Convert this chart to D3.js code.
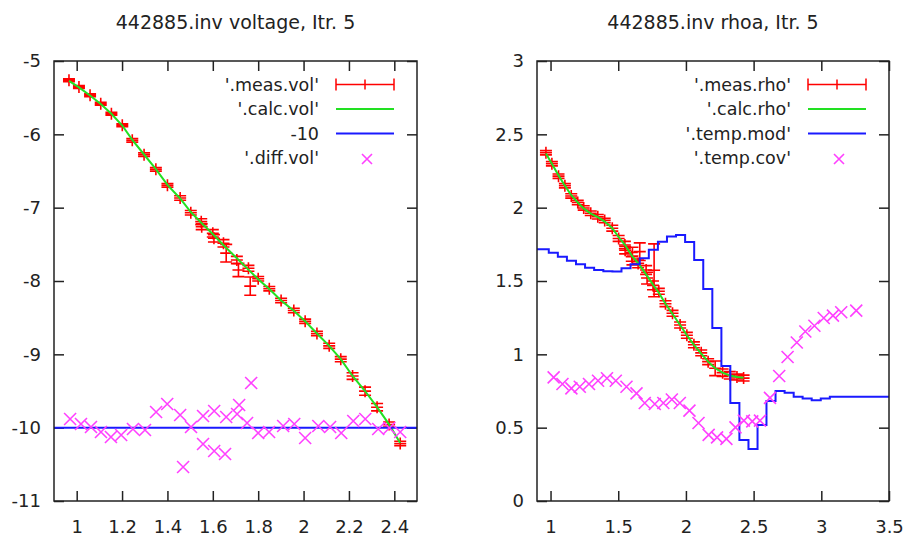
<!DOCTYPE html>
<html>
<head>
<meta charset="utf-8">
<script src="https://cdn.jsdelivr.net/npm/d3@7"></script>
<style>
  body { margin: 0; background: #fff; }
  text { font-family: "DejaVu Sans", sans-serif; fill: #222; }
</style>
</head>
<body>
<script>
// shared electrode spacings (log10 AB/2)
var measX = [0.966, 1.010, 1.059, 1.106, 1.153, 1.201, 1.245, 1.297, 1.349, 1.400, 1.456, 1.503, 1.549, 1.551,
  1.600, 1.605, 1.647, 1.659, 1.706, 1.713, 1.757, 1.765, 1.800, 1.849, 1.901, 1.957, 2.007, 2.059, 2.113,
  2.164, 2.216, 2.271, 2.324, 2.377, 2.426];

var measVol = [-5.263, -5.355, -5.468, -5.582, -5.719, -5.877, -6.081, -6.278, -6.477, -6.695, -6.868, -7.069,
  -7.191, -7.260, -7.350, -7.418, -7.486, -7.620, -7.714, -7.850, -7.827, -8.070, -7.969, -8.105, -8.266,
  -8.402, -8.550, -8.715, -8.884, -9.066, -9.296, -9.502, -9.721, -9.958, -10.215];
var errVol = [0.02, 0.02, 0.02, 0.02, 0.02, 0.02, 0.025, 0.025, 0.025, 0.025, 0.03, 0.03, 0.04, 0.04, 0.05,
  0.05, 0.05, 0.12, 0.05, 0.09, 0.04, 0.125, 0.03, 0.03, 0.03, 0.03, 0.03, 0.03, 0.035, 0.035, 0.045, 0.055,
  0.05, 0.035, 0.03];

var measRho = [2.375, 2.30, 2.215, 2.15, 2.08, 2.035, 1.998, 1.962, 1.938, 1.912, 1.86, 1.79, 1.745, 1.71,
  1.665, 1.67, 1.62, 1.70, 1.575, 1.52, 1.47, 1.573, 1.43, 1.345, 1.28, 1.20, 1.13, 1.065, 1.01, 0.95, 0.905,
  0.875, 0.857, 0.845, 0.838];
var errRho = [0.015, 0.015, 0.015, 0.015, 0.015, 0.015, 0.015, 0.015, 0.015, 0.015, 0.02, 0.02, 0.025, 0.025,
  0.03, 0.06, 0.03, 0.06, 0.03, 0.04, 0.03, 0.18, 0.02, 0.02, 0.02, 0.02, 0.02, 0.02, 0.02, 0.02, 0.05, 0.025,
  0.025, 0.02, 0.02];

var calcX = [0.966, 1.010, 1.059, 1.106, 1.153, 1.201, 1.245, 1.297, 1.349, 1.400, 1.456, 1.503, 1.550, 1.603,
  1.653, 1.706, 1.757, 1.800, 1.849, 1.901, 1.957, 2.007, 2.059, 2.113, 2.164, 2.216, 2.271, 2.324, 2.377, 2.426];
var calcVol = [-5.27, -5.36, -5.47, -5.585, -5.72, -5.88, -6.075, -6.275, -6.475, -6.69, -6.875, -7.06, -7.21,
  -7.37, -7.53, -7.69, -7.845, -7.975, -8.11, -8.265, -8.405, -8.55, -8.715, -8.885, -9.065, -9.295, -9.5,
  -9.72, -9.955, -10.21];
var calcRho = [2.37, 2.30, 2.22, 2.15, 2.085, 2.035, 1.995, 1.96, 1.935, 1.905, 1.86, 1.80, 1.745, 1.67, 1.615,
  1.545, 1.475, 1.42, 1.345, 1.275, 1.20, 1.13, 1.065, 1.005, 0.95, 0.905, 0.875, 0.855, 0.845, 0.84];

var diffX = [0.971, 1.019, 1.063, 1.107, 1.151, 1.196, 1.248, 1.301, 1.350, 1.399, 1.456, 1.469, 1.504, 1.557,
  1.557, 1.606, 1.606, 1.659, 1.654, 1.707, 1.716, 1.751, 1.769, 1.800, 1.848, 1.910, 1.959, 2.007, 2.065,
  2.117, 2.166, 2.219, 2.272, 2.329, 2.378, 2.426];
var diffVol = [-9.882, -9.950, -9.991, -10.059, -10.127, -10.100, -10.018, -10.032, -9.786, -9.677, -9.827,
  -10.537, -9.991, -9.841, -10.223, -9.773, -10.318, -9.855, -10.359, -9.814, -9.691, -9.936, -9.391, -10.073,
  -10.059, -9.977, -9.950, -10.141, -9.977, -9.991, -10.073, -9.909, -9.882, -10.018, -10.005, -10.059];

var modelX = [0.9, 0.987, 1.054, 1.121, 1.188, 1.255, 1.322, 1.390, 1.457, 1.524, 1.591, 1.659, 1.726, 1.793,
  1.860, 1.927, 1.994, 2.061, 2.128, 2.195, 2.262, 2.328, 2.395, 2.462, 2.529, 2.595, 2.662, 2.729, 2.796,
  2.862, 2.929, 2.996, 3.063, 3.5];
var modelRho = [1.716, 1.693, 1.666, 1.638, 1.614, 1.591, 1.575, 1.566, 1.564, 1.587, 1.614, 1.655, 1.713,
  1.768, 1.803, 1.814, 1.766, 1.643, 1.445, 1.180, 0.920, 0.668, 0.416, 0.355, 0.518, 0.682, 0.750, 0.738,
  0.710, 0.699, 0.687, 0.699, 0.710, 0.710];

var covX = [1.023, 1.088, 1.154, 1.216, 1.284, 1.351, 1.417, 1.482, 1.561, 1.635, 1.696, 1.770, 1.833, 1.896,
  1.955, 2.026, 2.093, 2.168, 2.230, 2.299, 2.366, 2.428, 2.490, 2.547, 2.621, 2.689, 2.751, 2.819, 2.882,
  2.949, 3.018, 3.086, 3.147, 3.258];
var covRho = [0.843, 0.798, 0.768, 0.779, 0.798, 0.820, 0.837, 0.820, 0.779, 0.734, 0.668, 0.661, 0.668, 0.692,
  0.668, 0.616, 0.532, 0.451, 0.434, 0.424, 0.502, 0.548, 0.543, 0.548, 0.703, 0.852, 0.982, 1.081, 1.156,
  1.195, 1.248, 1.264, 1.287, 1.298];

var refLevel = -10;

var volXTicks = [1, 1.2, 1.4, 1.6, 1.8, 2, 2.2, 2.4];
var volYTicks = [-5, -6, -7, -8, -9, -10, -11];
var rhoXTicks = [1, 1.5, 2, 2.5, 3, 3.5];
var rhoYTicks = [0, 0.5, 1, 1.5, 2, 2.5, 3];

var RED = '#ff0000', GREEN = '#22e022', BLUE = '#1a1aff', MAGENTA = '#ff40ff';

var svg = d3.select('body').append('svg')
  .attr('width', 914)
  .attr('height', 536);

var zip = function(xs, ys, es) {
  return xs.map(function(x, i) { return {x: x, y: ys[i], e: es ? es[i] : 0}; });
};

var drawPanel = function(cfg) {
  var x = d3.scaleLinear().domain(cfg.xDomain).range([cfg.left, cfg.right]);
  var y = d3.scaleLinear().domain(cfg.yDomain).range([501, 61]);
  var g = svg.append('g');

  var clipId = 'clip' + cfg.id;
  svg.append('clipPath').attr('id', clipId).append('rect')
    .attr('x', cfg.left).attr('y', 61)
    .attr('width', cfg.right - cfg.left).attr('height', 440);

  var fmt = function(d) { return String(d); };

  var axes = [
    {ax: d3.axisBottom(x).tickValues(cfg.xTicks).tickFormat(fmt).tickPadding(19), tr: 'translate(0,501)'},
    {ax: d3.axisTop(x).tickValues(cfg.xTicks).tickFormat(''), tr: 'translate(0,61)'},
    {ax: d3.axisLeft(y).tickValues(cfg.yTicks).tickFormat(fmt).tickPadding(13), tr: 'translate(' + cfg.left + ',0)'},
    {ax: d3.axisRight(y).tickValues(cfg.yTicks).tickFormat(''), tr: 'translate(' + cfg.right + ',0)'}
  ];
  axes.forEach(function(a) {
    var ag = g.append('g').attr('transform', a.tr)
      .call(a.ax.tickSizeInner(-10).tickSizeOuter(0));
    ag.select('.domain').remove();
    ag.selectAll('line').attr('stroke', '#222').attr('stroke-width', 1.5);
    ag.selectAll('text').style('font-size', '18px').attr('fill', '#222');
  });

  g.append('text')
    .attr('x', (cfg.left + cfg.right) / 2).attr('y', 29)
    .attr('text-anchor', 'middle')
    .style('font-size', '19px')
    .text(cfg.title);

  var plot = g.append('g').attr('clip-path', 'url(#' + clipId + ')');
  cfg.draw(plot, x, y);

  g.append('rect')
    .attr('x', cfg.left).attr('y', 61)
    .attr('width', cfg.right - cfg.left).attr('height', 440)
    .attr('fill', 'none').attr('stroke', '#222').attr('stroke-width', 1.5);

  // legend
  var lx = cfg.legendX;
  var rows = [84.5, 109, 133.5, 158];
  cfg.legend.forEach(function(label, i) {
    g.append('text')
      .attr('x', lx - 17).attr('y', rows[i]).attr('dy', '0.35em')
      .attr('text-anchor', 'end')
      .style('font-size', '17.5px')
      .text(label);
  });
  var s = g.append('g').attr('fill', 'none');
  s.append('path')
    .attr('d', 'M' + lx + ',' + rows[0] + 'H' + (lx + 58) +
      'M' + lx + ',' + (rows[0] - 6) + 'V' + (rows[0] + 6) +
      'M' + (lx + 58) + ',' + (rows[0] - 6) + 'V' + (rows[0] + 6) +
      'M' + (lx + 29) + ',' + (rows[0] - 5) + 'V' + (rows[0] + 5))
    .attr('stroke', RED).attr('stroke-width', 1.5);
  s.append('line').attr('x1', lx).attr('x2', lx + 58).attr('y1', rows[1]).attr('y2', rows[1])
    .attr('stroke', GREEN).attr('stroke-width', 2);
  s.append('line').attr('x1', lx).attr('x2', lx + 58).attr('y1', rows[2]).attr('y2', rows[2])
    .attr('stroke', BLUE).attr('stroke-width', 2);
  s.append('path').attr('d', cross(lx + 31, rows[3] + 1, 5))
    .attr('stroke', MAGENTA).attr('stroke-width', 1.6);
};

var cross = function(cx, cy, r) {
  return 'M' + (cx - r) + ',' + (cy - r) + 'L' + (cx + r) + ',' + (cy + r) +
    'M' + (cx - r) + ',' + (cy + r) + 'L' + (cx + r) + ',' + (cy - r);
};

var drawErrorBars = function(plot, x, y, data) {
  plot.append('g').selectAll('path').data(data).enter().append('path')
    .attr('d', function(d) {
      var cx = x(d.x), cy = y(d.y), y0 = y(d.y - d.e), y1 = y(d.y + d.e);
      return 'M' + cx + ',' + y0 + 'V' + y1 +
        'M' + (cx - 6) + ',' + y0 + 'H' + (cx + 6) +
        'M' + (cx - 6) + ',' + y1 + 'H' + (cx + 6) +
        'M' + (cx - 6) + ',' + cy + 'H' + (cx + 6) +
        'M' + cx + ',' + (cy - 6) + 'V' + (cy + 6);
    })
    .attr('fill', 'none').attr('stroke', RED).attr('stroke-width', 1.6);
};

var drawCrosses = function(plot, x, y, data) {
  plot.append('g').selectAll('path').data(data).enter().append('path')
    .attr('d', function(d) { return cross(x(d.x), y(d.y), 6); })
    .attr('fill', 'none').attr('stroke', MAGENTA).attr('stroke-width', 1.6);
};

drawPanel({
  id: 'vol',
  title: '442885.inv voltage, Itr. 5',
  left: 54, right: 417,
  xDomain: [0.9, 2.5], yDomain: [-11, -5],
  xTicks: volXTicks, yTicks: volYTicks,
  legendX: 336,
  legend: ["'.meas.vol'", "'.calc.vol'", '-10', "'.diff.vol'"],
  draw: function(plot, x, y) {
    drawErrorBars(plot, x, y, zip(measX, measVol, errVol));
    plot.append('path').datum(zip(calcX, calcVol))
      .attr('d', d3.line().x(function(d) { return x(d.x); }).y(function(d) { return y(d.y); }))
      .attr('fill', 'none').attr('stroke', GREEN).attr('stroke-width', 2);
    plot.append('line')
      .attr('x1', x(0.9)).attr('x2', x(2.5)).attr('y1', y(refLevel)).attr('y2', y(refLevel))
      .attr('stroke', BLUE).attr('stroke-width', 2);
    drawCrosses(plot, x, y, zip(diffX, diffVol));
  }
});

drawPanel({
  id: 'rho',
  title: '442885.inv rhoa, Itr. 5',
  left: 537, right: 889,
  xDomain: [0.9, 3.5], yDomain: [0, 3],
  xTicks: rhoXTicks, yTicks: rhoYTicks,
  legendX: 808,
  legend: ["'.meas.rho'", "'.calc.rho'", "'.temp.mod'", "'.temp.cov'"],
  draw: function(plot, x, y) {
    drawErrorBars(plot, x, y, zip(measX, measRho, errRho));
    plot.append('path').datum(zip(calcX, calcRho))
      .attr('d', d3.line().x(function(d) { return x(d.x); }).y(function(d) { return y(d.y); }))
      .attr('fill', 'none').attr('stroke', GREEN).attr('stroke-width', 2);
    plot.append('path').datum(zip(modelX, modelRho))
      .attr('d', d3.line().curve(d3.curveStepAfter)
        .x(function(d) { return x(d.x); }).y(function(d) { return y(d.y); }))
      .attr('fill', 'none').attr('stroke', BLUE).attr('stroke-width', 2);
    drawCrosses(plot, x, y, zip(covX, covRho));
  }
});
</script>
</body>
</html>
